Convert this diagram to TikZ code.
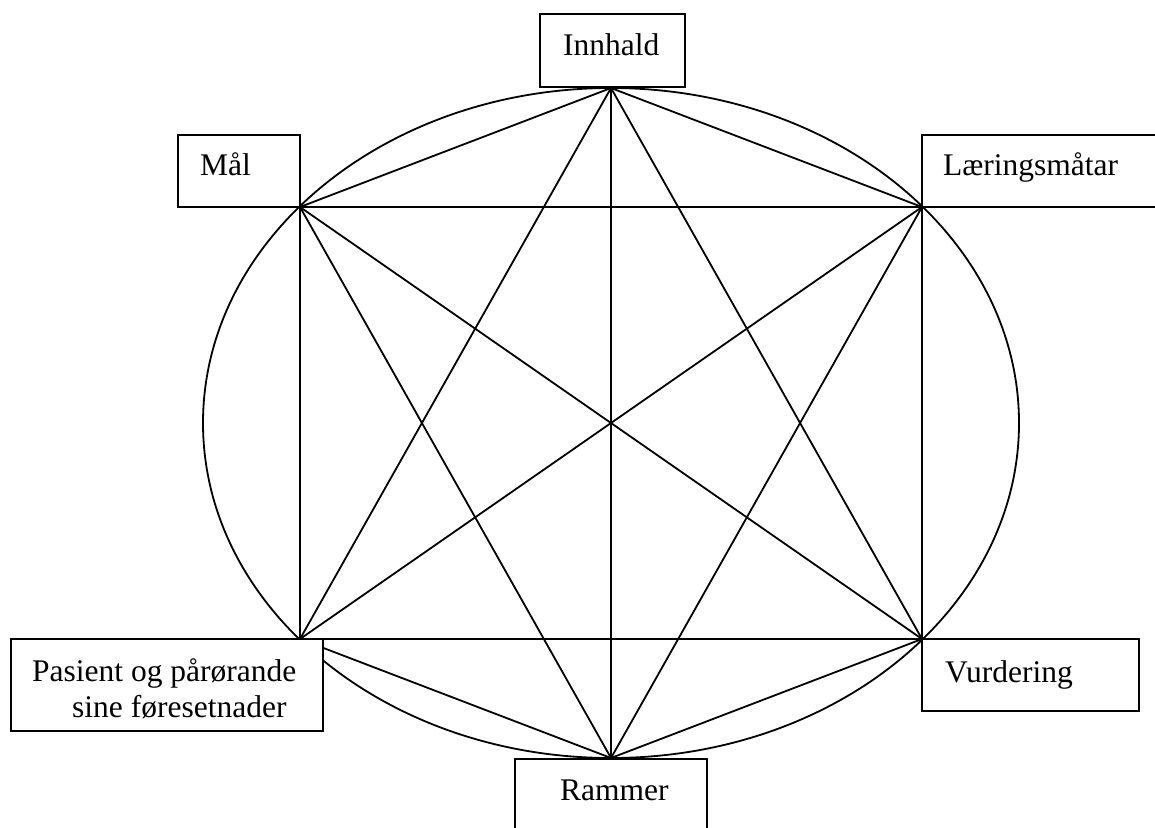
\documentclass[tikz,border=0pt]{standalone}
\usepackage{fontspec}
\setmainfont{Liberation Serif}
\begin{document}
\begin{tikzpicture}[x=1pt,y=-1pt,
  edge/.style={line width=1.8pt},
  box/.style={draw, fill=white, rectangle, inner sep=0pt, line width=2pt},
  lbl/.style={anchor=base west, inner sep=0pt, font=\fontsize{31.5pt}{38pt}\selectfont}]
\useasboundingbox (0,0) rectangle (1155,827);
\clip (0,0) rectangle (1155,827);
% vertices
\coordinate (I) at (611,88);
\coordinate (M) at (300,207);
\coordinate (L) at (922,207);
\coordinate (P) at (300,639);
\coordinate (V) at (922,639);
\coordinate (R) at (611,758);
\coordinate (C) at (611,423);
% ellipse
\draw[edge] (C) ellipse [x radius=408, y radius=335];
% complete graph
\foreach \a/\b in {I/M,I/L,I/P,I/V,I/R,M/L,M/P,M/V,M/R,L/P,L/V,L/R,P/V,P/R,V/R}
  \draw[edge] (\a) -- (\b);
% boxes
\node[box, minimum width=145pt, minimum height=73pt] (innhaldbox) at (612.5,50.5) {};
\node[box, minimum width=122pt, minimum height=72pt] (maalbox) at (239,171) {};
\node[box, minimum width=260pt, minimum height=72pt] (laerbox) at (1052,171) {};
\node[box, minimum width=312pt, minimum height=92pt] (pasbox) at (167,685) {};
\node[box, minimum width=217pt, minimum height=72pt] (vurdbox) at (1030.5,675) {};
\node[box, minimum width=192pt, minimum height=100pt] (rambox) at (611,809) {};
% labels
\node[lbl] (innhald) at (563,55) {Innhald};
\node[lbl] (maal) at (200,175) {Mål};
\node[lbl] (laer) at (943,175) {Læringsmåtar};
\node[lbl] (pas1) at (32,681) {Pasient og pårørande};
\node[lbl] (pas2) at (72,717) {sine føresetnader};
\node[lbl] (vurd) at (945,682) {Vurdering};
\node[lbl] (ram) at (560,800) {Rammer};
\end{tikzpicture}
\end{document}
